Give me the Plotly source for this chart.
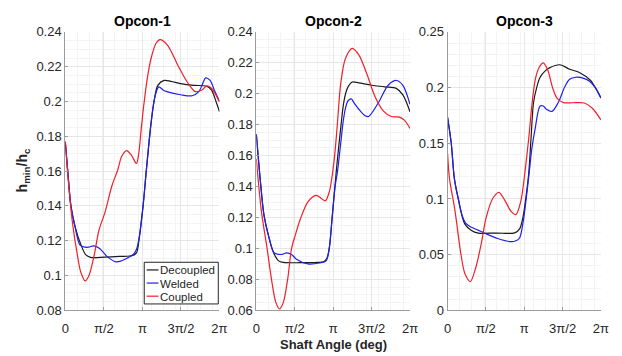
import numpy as np
import plotly.graph_objects as go

PI = np.pi

# ---------------- Opcon-1 ----------------
op1_dec_t = [0, 0.1, 0.23, 0.4, 0.63, 0.83, 1.03, 1.6, 2.2, 2.75, 2.9, 3.0, 3.17, 3.3, 3.5, 3.63, 3.77,
             4.03, 4.3, 4.7, 5.23, 5.76, 5.96, 6.16, 6.283]
op1_dec_h = [0.177, 0.160, 0.140, 0.128, 0.118, 0.112, 0.1104, 0.1106, 0.111, 0.1115, 0.113, 0.12, 0.14,
             0.16, 0.1883, 0.2011, 0.2093, 0.2121, 0.2116, 0.2103, 0.2093, 0.2088, 0.2066, 0.1993, 0.1942]

op1_wel_t = [0, 0.1, 0.23, 0.4, 0.6, 0.8, 0.95, 1.17, 1.4, 1.7, 2.05, 2.3, 2.56, 2.77, 2.9, 3.0, 3.17,
             3.3, 3.5, 3.65, 3.81, 4.0, 4.14, 4.7, 5.17, 5.44, 5.62, 5.72, 5.9, 6.1, 6.283]
op1_wel_h = [0.176, 0.160, 0.140, 0.128, 0.1175, 0.1163, 0.1163, 0.1171, 0.1155, 0.111, 0.1079, 0.1085,
             0.1103, 0.1121, 0.115, 0.121, 0.140, 0.16, 0.188, 0.2025, 0.2084, 0.2065, 0.2057, 0.2039,
             0.2033, 0.2057, 0.211, 0.2136, 0.2121, 0.2057, 0.2002]

op1_cou_t = [0, 0.15, 0.3, 0.5, 0.63, 0.81, 0.97, 1.17, 1.37, 1.63, 1.9, 2.14, 2.3, 2.5, 2.7, 2.9, 3.0,
             3.1, 3.2, 3.35, 3.5, 3.7, 3.86, 4.17, 4.57, 4.97, 5.3, 5.57, 5.77, 5.97, 6.283]
op1_cou_h = [0.177, 0.150, 0.1295, 0.1112, 0.102, 0.0969, 0.1002, 0.1112, 0.1259, 0.1369, 0.1516,
             0.1608, 0.1685, 0.1718, 0.169, 0.1644, 0.171, 0.185, 0.198, 0.214, 0.225, 0.2335, 0.2356,
             0.2323, 0.2213, 0.2112, 0.2057, 0.2066, 0.209, 0.2075, 0.1997]

# ---------------- Opcon-2 ----------------
op2_dec_t = [0, 0.18, 0.31, 0.51, 0.71, 0.91, 1.11, 1.8, 2.5, 2.75, 2.88, 2.98, 3.1, 3.2, 3.3, 3.45,
             3.58, 3.72, 3.92, 4.19, 4.72, 5.25, 5.72, 5.99, 6.283]
op2_dec_h = [0.1736, 0.141, 0.1219, 0.1075, 0.0971, 0.092, 0.091, 0.0908, 0.091, 0.0914, 0.0935, 0.100,
             0.12, 0.138, 0.155, 0.178, 0.195, 0.2035, 0.2076, 0.207, 0.2055, 0.2045, 0.2035, 0.1993,
             0.1884]

op2_wel_t = [0, 0.18, 0.31, 0.51, 0.71, 0.9, 1.05, 1.24, 1.45, 1.64, 2.11, 2.58, 2.85, 2.98, 3.1, 3.22,
             3.32, 3.45, 3.55, 3.65, 3.75, 3.88, 4.0, 4.19, 4.45, 4.59, 4.99, 5.39, 5.72, 5.99, 6.283]
op2_wel_h = [0.174, 0.141, 0.1219, 0.1075, 0.0975, 0.0962, 0.0962, 0.0971, 0.096, 0.0931, 0.090,
             0.0906, 0.092, 0.100, 0.12, 0.14, 0.150, 0.168, 0.182, 0.1911, 0.1955, 0.1967, 0.194,
             0.19, 0.1858, 0.1853, 0.1942, 0.2055, 0.2086, 0.2055, 0.1931]

op2_cou_t = [0, 0.2, 0.44, 0.62, 0.8, 0.95, 1.1, 1.28, 1.44, 1.6, 1.8, 2.11, 2.45, 2.65, 2.82, 2.98,
             3.18, 3.32, 3.45, 3.65, 3.92, 4.19, 4.52, 4.85, 5.19, 5.52, 5.85, 6.06, 6.283]
op2_cou_h = [0.158, 0.125, 0.1, 0.08, 0.065, 0.061, 0.065, 0.08, 0.1, 0.109, 0.119, 0.1302, 0.1343,
             0.1325, 0.1308, 0.1364, 0.157, 0.1818, 0.2066, 0.2231, 0.2293, 0.2251, 0.2128, 0.1983,
             0.189, 0.1853, 0.1849, 0.1828, 0.1776]

# ---------------- Opcon-3 ----------------
op3_dec_t = [0, 0.15, 0.28, 0.44, 0.71, 0.98, 1.25, 2.0, 2.75, 2.95, 3.1, 3.2, 3.32, 3.42, 3.52, 3.65,
             3.79, 4.0, 4.19, 4.6, 5.0, 5.4, 5.86, 6.07, 6.283]
op3_dec_h = [0.173, 0.15, 0.118, 0.1, 0.0774, 0.0717, 0.0694, 0.0694, 0.0696, 0.0731, 0.085, 0.1,
             0.122, 0.155, 0.1864, 0.2, 0.2093, 0.215, 0.2179, 0.2205, 0.2165, 0.2136, 0.2064, 0.1993,
             0.1907]

op3_wel_t = [0, 0.15, 0.28, 0.44, 0.6, 0.75, 0.98, 1.25, 1.51, 2.05, 2.59, 2.8, 2.95, 3.1, 3.22,
             3.35, 3.45, 3.59, 3.79, 3.92, 4.05, 4.27, 4.53, 4.8, 5.0, 5.26, 5.55, 5.8, 6.05, 6.283]
op3_wel_h = [0.1735, 0.15, 0.118, 0.1, 0.085, 0.078, 0.0746, 0.072, 0.0694, 0.0645, 0.0617, 0.0625,
             0.065, 0.08, 0.1, 0.125, 0.145, 0.1634, 0.1835, 0.1835, 0.1805, 0.1786, 0.1864, 0.2007,
             0.2075, 0.2093, 0.2085, 0.2059, 0.2, 0.1907]

op3_cou_t = [0, 0.08, 0.3, 0.55, 0.71, 0.93, 1.15, 1.38, 1.58, 1.85, 2.1, 2.35, 2.6, 2.8, 3.0, 3.2,
             3.35, 3.45, 3.6, 3.75, 3.92, 4.1, 4.3, 4.5, 4.75, 5.13, 5.6, 5.93, 6.283]
op3_cou_h = [0.141, 0.118, 0.09, 0.05, 0.033, 0.0258, 0.038, 0.06, 0.0832, 0.1004, 0.106, 0.0985,
             0.0889, 0.086, 0.098, 0.13, 0.16, 0.1835, 0.208, 0.218, 0.2222, 0.216, 0.2, 0.19,
             0.1865, 0.1864, 0.1862, 0.1815, 0.171]

series_names = ["Decoupled", "Welded", "Coupled"]
series_colors = ["#1a1a1a", "#1f1fee", "#f01e28"]
panel_titles = ["Opcon-1", "Opcon-2", "Opcon-3"]

x_tick_vals = [0, PI / 2, PI, 3 * PI / 2, 2 * PI]
x_tick_text = ["0", "π/2", "π", "3π/2", "2π"]

panels = [
    [(op1_dec_t, op1_dec_h), (op1_wel_t, op1_wel_h), (op1_cou_t, op1_cou_h)],
    [(op2_dec_t, op2_dec_h), (op2_wel_t, op2_wel_h), (op2_cou_t, op2_cou_h)],
    [(op3_dec_t, op3_dec_h), (op3_wel_t, op3_wel_h), (op3_cou_t, op3_cou_h)],
]

y_ranges = [[0.08, 0.24], [0.06, 0.24], [0.0, 0.25]]
y_dticks = [0.02, 0.02, 0.05]
y_minor = [0.005, 0.005, 0.01]

W, H = 622, 356
x_domains = [[62.5 / W, 219.7 / W], [257.3 / W, 414.0 / W], [452.3 / W, 608.7 / W]]
y_domain = [1 - 316.7 / H, 1 - 26.0 / H]

FONT = "Liberation Sans, Arial, Helvetica, sans-serif"
AXIS_COLOR = "#9c9c9c"
GRID = "#e6e6e6"
MINOR_GRID = "#f3f3f3"


def px_x(v):
    return v / W


def px_y(v):
    return 1 - v / H


fig = go.Figure()

for p, series in enumerate(panels):
    suffix = "" if p == 0 else str(p + 1)
    for s, (t, h) in enumerate(series):
        fig.add_trace(go.Scatter(
            x=t, y=h, mode="lines", name=series_names[s],
            line=dict(color=series_colors[s], width=1.2, shape="spline", smoothing=0.9),
            xaxis="x" + suffix, yaxis="y" + suffix, showlegend=False,
        ))

layout = dict(
    width=W, height=H,
    margin=dict(l=0, r=0, t=0, b=0),
    paper_bgcolor="white", plot_bgcolor="white",
    font=dict(family=FONT, color="#262626", size=13),
    showlegend=False,
)

for p in range(3):
    suffix = "" if p == 0 else str(p + 1)
    layout["xaxis" + suffix] = dict(
        domain=x_domains[p], anchor="y" + suffix, range=[0, 2 * PI],
        tickmode="array", tickvals=x_tick_vals, ticktext=x_tick_text,
        showline=True, linecolor=AXIS_COLOR, linewidth=1,
        ticks="inside", ticklen=3, tickcolor=AXIS_COLOR,
        showgrid=True, gridcolor=GRID, gridwidth=1, zeroline=False,
        tickfont=dict(size=13, color="#262626"), ticklabelstandoff=6,
        minor=dict(tickmode="linear", tick0=0, dtick=0.5, showgrid=True,
                   gridcolor=MINOR_GRID, gridwidth=1),
    )
    layout["yaxis" + suffix] = dict(
        domain=y_domain, anchor="x" + suffix, range=y_ranges[p],
        tickmode="linear", tick0=0, dtick=y_dticks[p],
        showline=True, linecolor=AXIS_COLOR, linewidth=1,
        ticks="inside", ticklen=3, tickcolor=AXIS_COLOR,
        showgrid=True, gridcolor=GRID, gridwidth=1, zeroline=False,
        tickfont=dict(size=13, color="#262626"),
        minor=dict(tickmode="linear", tick0=0, dtick=y_minor[p], showgrid=True,
                   gridcolor=MINOR_GRID, gridwidth=1),
    )

fig.update_layout(**layout)

annotations = []
shapes = []
for p in range(3):
    cx = (x_domains[p][0] + x_domains[p][1]) / 2
    annotations.append(dict(
        text="<b>" + panel_titles[p] + "</b>", x=cx, y=px_y(15),
        xref="paper", yref="paper", xanchor="center", yanchor="middle",
        showarrow=False, font=dict(size=14, color="#000000", family=FONT),
    ))
annotations.append(dict(
    text="<b>Shaft Angle (deg)</b>", x=px_x(335.5), y=px_y(352),
    xref="paper", yref="paper", xanchor="center", yanchor="middle",
    showarrow=False, font=dict(size=13, color="#262626", family=FONT),
))
annotations.append(dict(
    text="<b>h<sub>min</sub>/h<sub>c</sub></b>", x=px_x(19), y=px_y(171),
    xref="paper", yref="paper", xanchor="center", yanchor="middle", textangle=-90,
    showarrow=False, font=dict(size=14, color="#262626", family=FONT),
))

# legend box inside the first panel
leg_left, leg_right, leg_top, leg_bottom = 143.0, 218.5, 266.5, 310.0
shapes.append(dict(
    type="rect", xref="paper", yref="paper",
    x0=px_x(leg_left), x1=px_x(leg_right), y0=px_y(leg_bottom), y1=px_y(leg_top),
    line=dict(color="#262626", width=1), fillcolor="white", layer="above",
))
row_y = [274.5, 288.2, 301.9]
for s in range(3):
    shapes.append(dict(
        type="line", xref="paper", yref="paper",
        x0=px_x(145.5), x1=px_x(157.5), y0=px_y(row_y[s]), y1=px_y(row_y[s]),
        line=dict(color=series_colors[s], width=1.2), layer="above",
    ))
    annotations.append(dict(
        text=series_names[s], x=px_x(158.5), y=px_y(row_y[s]),
        xref="paper", yref="paper", xanchor="left", yanchor="middle",
        height=13, valign="middle", borderpad=0,
        showarrow=False, font=dict(size=11.5, color="#262626", family=FONT),
    ))

fig.update_layout(annotations=annotations, shapes=shapes)

fig.write_html("out.html")
